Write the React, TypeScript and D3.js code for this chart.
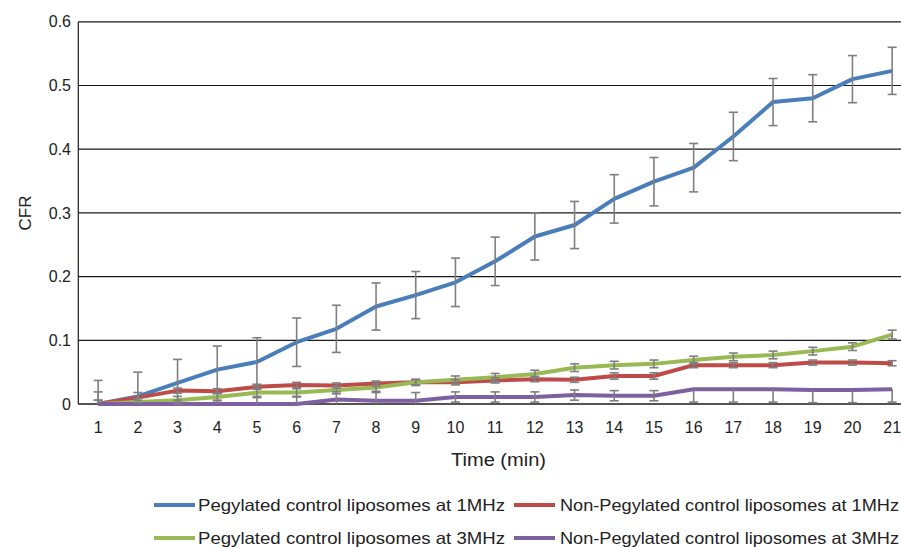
import React from "react";
import * as d3 from "d3";

const categories = Array.from({ length: 21 }, (_, i) => String(i + 1));
const yTicks = [0, 0.1, 0.2, 0.3, 0.4, 0.5, 0.6];
const yTickLabels = ["0", "0.1", "0.2", "0.3", "0.4", "0.5", "0.6"];

const pegylated1MHz = [0, 0.012, 0.033, 0.054, 0.066, 0.097, 0.118, 0.153, 0.171, 0.191, 0.224, 0.263, 0.281, 0.322, 0.349, 0.371, 0.42, 0.474, 0.48, 0.51, 0.523];
const pegylated1MHzErr = [0.037, 0.038, 0.037, 0.037, 0.038, 0.038, 0.037, 0.037, 0.037, 0.038, 0.038, 0.037, 0.037, 0.038, 0.038, 0.038, 0.038, 0.037, 0.037, 0.037, 0.037];

const nonPeg1MHz = [0, 0.01, 0.021, 0.02, 0.027, 0.03, 0.029, 0.032, 0.034, 0.034, 0.037, 0.039, 0.038, 0.044, 0.044, 0.061, 0.061, 0.061, 0.065, 0.065, 0.064];
const nonPeg1MHzErr = [0.019, 0.008, 0.004, 0.004, 0.004, 0.004, 0.004, 0.004, 0.004, 0.004, 0.004, 0.004, 0.004, 0.005, 0.005, 0.004, 0.004, 0.004, 0.004, 0.004, 0.004];

const pegylated3MHz = [0, 0.003, 0.006, 0.011, 0.018, 0.018, 0.022, 0.026, 0.034, 0.038, 0.042, 0.047, 0.057, 0.061, 0.063, 0.069, 0.074, 0.077, 0.083, 0.09, 0.109];
const pegylated3MHzErr = [0.006, 0.006, 0.006, 0.006, 0.006, 0.006, 0.006, 0.006, 0.005, 0.006, 0.006, 0.006, 0.006, 0.006, 0.006, 0.006, 0.006, 0.006, 0.006, 0.006, 0.007];

const nonPeg3MHz = [0, 0, 0, 0, 0, 0, 0.007, 0.005, 0.005, 0.011, 0.011, 0.011, 0.014, 0.013, 0.013, 0.023, 0.023, 0.023, 0.022, 0.022, 0.023];
const nonPeg3MHzErrUp = [0.006, 0.006, 0.006, 0.006, 0.01, 0.011, 0.012, 0.013, 0.013, 0.008, 0.008, 0.008, 0.008, 0.008, 0.008, 0, 0, 0, 0, 0, 0];
const nonPeg3MHzErrDown = [0.006, 0.006, 0.006, 0.006, 0.006, 0.006, 0.008, 0.008, 0.008, 0.008, 0.008, 0.008, 0.008, 0.008, 0.008, 0.02, 0.02, 0.02, 0.02, 0.02, 0.02];

const seriesNames = [
  "Pegylated control liposomes at 1MHz",
  "Non-Pegylated control liposomes at 1MHz",
  "Pegylated control liposomes at 3MHz",
  "Non-Pegylated control liposomes at 3MHz",
];
const seriesColors = ["#4A7EBB", "#BE4B48", "#98B954", "#7D60A0"];

const series = [
  { name: seriesNames[0], color: seriesColors[0], values: pegylated1MHz, up: pegylated1MHzErr, down: pegylated1MHzErr },
  { name: seriesNames[1], color: seriesColors[1], values: nonPeg1MHz, up: nonPeg1MHzErr, down: nonPeg1MHzErr },
  { name: seriesNames[2], color: seriesColors[2], values: pegylated3MHz, up: pegylated3MHzErr, down: pegylated3MHzErr },
  { name: seriesNames[3], color: seriesColors[3], values: nonPeg3MHz, up: nonPeg3MHzErrUp, down: nonPeg3MHzErrDown },
];

const W = 901;
const H = 547;
const left = 78.3;
const bandW = 39.7;
const right = left + bandW * 21;
const top = 21.8;
const bottom = 404;
const FONT = "'Liberation Sans', Arial, Helvetica, sans-serif";

export default function App() {
  const x = d3.scaleBand<string>().domain(categories).range([left, right]).paddingInner(0).paddingOuter(0);
  const cx = (c: string) => (x(c) as number) + x.bandwidth() / 2;
  const y = d3.scaleLinear().domain([0, 0.6]).range([bottom, top]);

  const line = d3
    .line<number>()
    .x((_, i) => cx(categories[i]))
    .y((v) => y(v))
    .curve(d3.curveLinear);

  const clampY = (v: number) => y(Math.max(0, Math.min(0.6, v)));

  const legendItems = [
    { s: 0, lx: 154, tx: 198, ty: 505, len: 307 },
    { s: 1, lx: 514, tx: 560, ty: 505, len: 339 },
    { s: 2, lx: 154, tx: 198, ty: 538, len: 307 },
    { s: 3, lx: 514, tx: 560, ty: 538, len: 339 },
  ];

  return (
    <svg
      width={W}
      height={H}
      style={{ position: "absolute", left: 0, top: 0, background: "#fff" }}
      fontFamily={FONT}
    >
      <rect x={0} y={0} width={W} height={H} fill="#fff" />
      {yTicks.map((t, i) =>
        t === 0 ? null : (
          <line key={"g" + i} x1={left} x2={right} y1={y(t)} y2={y(t)} stroke="#1a1a1a" strokeWidth={1.2} />
        )
      )}
      <line x1={left} x2={left} y1={top} y2={bottom} stroke="#1a1a1a" strokeWidth={1.2} />
      <line x1={left} x2={right} y1={bottom} y2={bottom} stroke="#1a1a1a" strokeWidth={1.4} />
      {yTicks.map((t, i) => (
        <text key={"yl" + i} x={71} y={y(t)} dy="0.35em" textAnchor="end" fontSize={16} fill="#222">
          {yTickLabels[i]}
        </text>
      ))}
      {categories.map((c) => (
        <text key={"xl" + c} x={cx(c)} y={433} textAnchor="middle" fontSize={16} fill="#222">
          {c}
        </text>
      ))}
      <text transform={`translate(31,213) rotate(-90)`} textAnchor="middle" fontSize={17} fill="#222">
        CFR
      </text>
      <text x={451} y={466} fontSize={18} fill="#222" textLength={95} lengthAdjust="spacingAndGlyphs">
        Time (min)
      </text>
      {series.map((s, si) => (
        <path
          key={"l" + si}
          d={line(s.values) || ""}
          fill="none"
          stroke={s.color}
          strokeWidth={4}
          strokeLinejoin="round"
          strokeLinecap="butt"
        />
      ))}
      {series.map((s, si) => (
        <g key={"e" + si} stroke="#7f7f7f" strokeWidth={1.6}>
          {s.values.map((v, i) => {
            const xc = cx(categories[i]);
            const hi = v + s.up[i];
            const lo = v - s.down[i];
            const yHi = clampY(hi);
            const yLo = clampY(lo);
            return (
              <g key={i}>
                <line x1={xc} x2={xc} y1={yHi} y2={yLo} />
                {s.up[i] > 0 && hi <= 0.6 && <line x1={xc - 4.5} x2={xc + 4.5} y1={yHi} y2={yHi} />}
                {lo >= 0 && <line x1={xc - 4.5} x2={xc + 4.5} y1={yLo} y2={yLo} />}
              </g>
            );
          })}
        </g>
      ))}
      {legendItems.map((it) => (
        <g key={"lg" + it.s}>
          <line x1={it.lx} x2={it.lx + 41} y1={it.ty} y2={it.ty} stroke={series[it.s].color} strokeWidth={4} />
          <text
            x={it.tx}
            y={it.ty}
            dy="0.36em"
            fontSize={16.5}
            fill="#222"
            textLength={it.len}
            lengthAdjust="spacingAndGlyphs"
          >
            {series[it.s].name}
          </text>
        </g>
      ))}
    </svg>
  );
}
